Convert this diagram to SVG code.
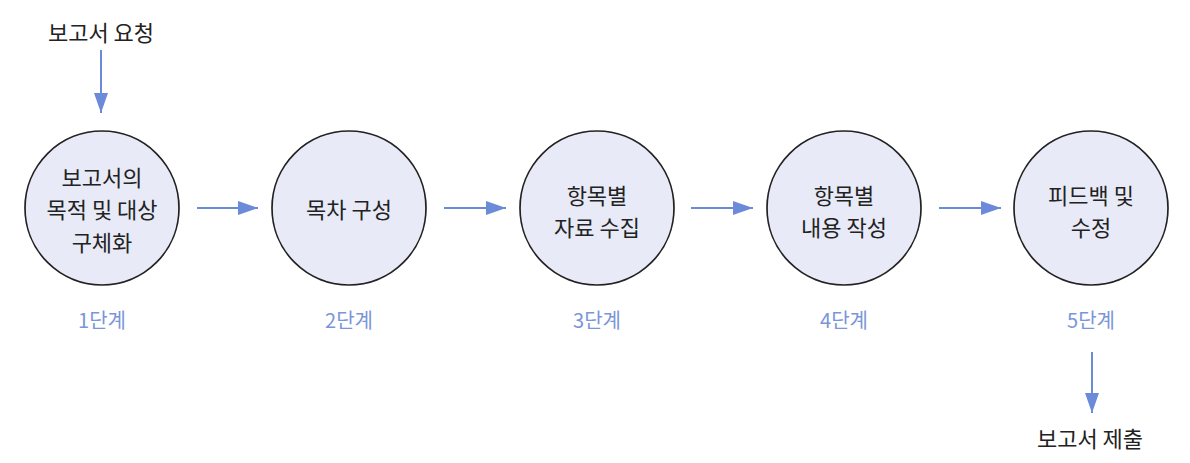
<svg xmlns="http://www.w3.org/2000/svg" width="1190" height="463" viewBox="0 0 1190 463">
<style>
.node circle{fill:#e8eaf7;stroke:#222;stroke-width:1.7}
.t{font-family:"Noto Sans CJK KR","Noto Sans",sans-serif;font-size:22px;fill:#222;text-anchor:middle;dominant-baseline:central}
.s{font-family:"Noto Sans CJK KR","Noto Sans",sans-serif;font-size:20px;fill:#7b95d9;text-anchor:middle;dominant-baseline:central}
.c line{stroke:#6b8ad9;stroke-width:2;marker-end:url(#ah)}
</style>
<defs>
<marker id="ah" viewBox="0 0 20 14" refX="20" refY="7" markerWidth="20" markerHeight="14" markerUnits="userSpaceOnUse" orient="auto">
<path d="M0,0 L20,7 L0,14 z" fill="#6b8ad9"/>
</marker>
</defs>
<g class="c" id="connectors">
<line x1="101" y1="50" x2="101" y2="113"/>
<line x1="197" y1="208" x2="258" y2="208"/>
<line x1="444" y1="208" x2="506" y2="208"/>
<line x1="691" y1="208" x2="753" y2="208"/>
<line x1="939" y1="208" x2="1001" y2="208"/>
<line x1="1092" y1="352" x2="1092" y2="413"/>
</g>
<g id="start"><text class="t" x="101" y="31">보고서 요청</text></g>
<g id="end"><text class="t" x="1090" y="437">보고서 제출</text></g>
<g class="node" id="step1">
<circle cx="102" cy="208" r="77"/>
<text class="t" x="102" y="176">보고서의</text>
<text class="t" x="102" y="208">목적 및 대상</text>
<text class="t" x="102" y="241">구체화</text>
<text class="s" x="102" y="319">1단계</text>
</g>
<g class="node" id="step2">
<circle cx="349" cy="208" r="77"/>
<text class="t" x="349" y="208">목차 구성</text>
<text class="s" x="349" y="319">2단계</text>
</g>
<g class="node" id="step3">
<circle cx="597" cy="208" r="77"/>
<text class="t" x="597" y="194">항목별</text>
<text class="t" x="597" y="226">자료 수집</text>
<text class="s" x="597" y="319">3단계</text>
</g>
<g class="node" id="step4">
<circle cx="844" cy="208" r="77"/>
<text class="t" x="844" y="194">항목별</text>
<text class="t" x="844" y="226">내용 작성</text>
<text class="s" x="844" y="319">4단계</text>
</g>
<g class="node" id="step5">
<circle cx="1091" cy="208" r="77"/>
<text class="t" x="1091" y="194">피드백 및</text>
<text class="t" x="1091" y="226">수정</text>
<text class="s" x="1091" y="319">5단계</text>
</g>
</svg>
